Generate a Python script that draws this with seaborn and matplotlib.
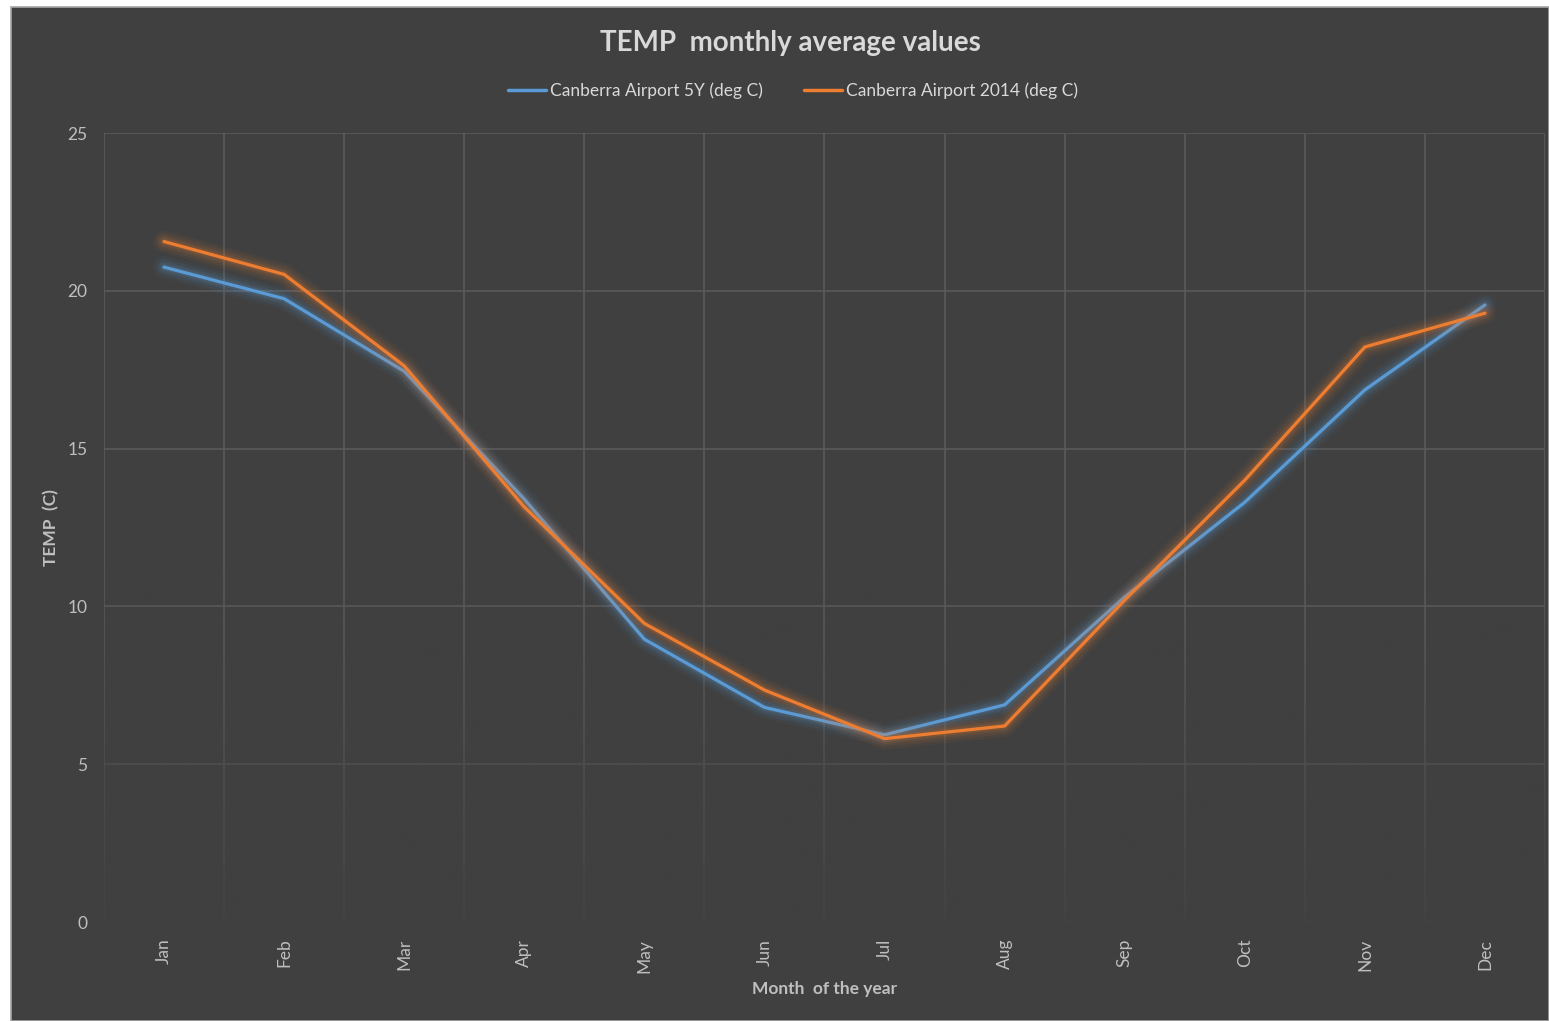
import numpy as np
import pandas as pd
import matplotlib
matplotlib.use("Agg")
import matplotlib.pyplot as plt
import matplotlib.patheffects as pe
from matplotlib.patches import Rectangle
import seaborn as sns

months = ["Jan", "Feb", "Mar", "Apr", "May", "Jun", "Jul", "Aug", "Sep", "Oct", "Nov", "Dec"]
series_5y_name = "Canberra Airport 5Y (deg C)"
series_2014_name = "Canberra Airport 2014 (deg C)"
temp_5y = [20.75, 19.75, 17.45, 13.4, 8.96, 6.8, 5.93, 6.88, 10.3, 13.3, 16.86, 19.55]
temp_2014 = [21.56, 20.52, 17.62, 13.15, 9.46, 7.35, 5.81, 6.21, 10.2, 14.0, 18.22, 19.29]
y_ticks = [0, 5, 10, 15, 20, 25]

df = pd.DataFrame({
    "Month": months * 2,
    "TEMP": temp_5y + temp_2014,
    "Series": [series_5y_name] * len(months) + [series_2014_name] * len(months),
})

BG = "#404040"
GRID = "#5a5a5a"
TXT = "#d9d9d9"
TICK = "#bfbfbf"
palette = {series_5y_name: "#5B9BD5", series_2014_name: "#ED7D31"}

sns.set_theme(style="dark")
plt.rcParams["font.family"] = ["Lato", "DejaVu Sans"]

fig = plt.figure(figsize=(15.49, 10.21), dpi=100, facecolor="white")
# dark chart area with thin grey frame
fig.patches.append(Rectangle((11 / 1549, 0), 1 - 11 / 1549, 1 - 7 / 1021,
                             transform=fig.transFigure, facecolor=BG,
                             edgecolor="#a6a6a6", linewidth=1.2, zorder=-10))

ax = fig.add_axes([104 / 1549, 1 - 922 / 1021, (1545 - 104) / 1549, (922 - 133) / 1021])
ax.set_facecolor(BG)

sns.lineplot(data=df, x="Month", y="TEMP", hue="Series", palette=palette,
             sort=False, linewidth=2.3, ax=ax, legend=False, zorder=4)

for line in ax.get_lines():
    c = line.get_color()
    line.set_path_effects([
        pe.Stroke(linewidth=16, foreground=c, alpha=0.05),
        pe.Stroke(linewidth=12, foreground=c, alpha=0.07),
        pe.Stroke(linewidth=8, foreground=c, alpha=0.10),
        pe.Stroke(linewidth=5, foreground=c, alpha=0.14),
        pe.Normal(),
    ])
    line.set_solid_capstyle("round")

ax.set_xlim(-0.5, len(months) - 0.5)
ax.set_ylim(0, 25)
ax.set_yticks(y_ticks)
ax.set_yticklabels([str(v) for v in y_ticks])
ax.set_xticks(range(len(months)))
ax.set_xticklabels(months, rotation=90)

# grid lines (vertical between categories, horizontal at ticks)
for xb in np.arange(-0.5, len(months) + 0.5, 1.0):
    ax.axvline(xb, color=GRID, linewidth=1.2, zorder=0.5)
for yv in y_ticks:
    ax.axhline(yv, color=GRID, linewidth=1.2, zorder=0.5)

# fade of the lower part of the plot area
grad = np.zeros((256, 2, 4))
bgc = matplotlib.colors.to_rgba(BG)
grad[..., :3] = bgc[:3]
alpha = np.clip((np.linspace(0, 1, 256) - 0.55) / 0.45, 0, 1) ** 1.2 * 0.88
grad[..., 3] = alpha[:, None]
ax.imshow(grad, extent=(-0.5, len(months) - 0.5, 0, 25), origin="upper",
          aspect="auto", zorder=1, interpolation="bicubic")
ax.set_xlim(-0.5, len(months) - 0.5)
ax.set_ylim(0, 25)

for s in ax.spines.values():
    s.set_visible(False)
ax.grid(False)
ax.tick_params(axis="both", length=0, colors=TICK, labelsize=12.5)
ax.tick_params(axis="x", pad=12)
ax.tick_params(axis="y", pad=12)

ax.set_xlabel("Month  of the year", color=TICK, fontsize=12.5, fontweight="bold", labelpad=6)
ax.set_ylabel("TEMP  (C)", color=TICK, fontsize=12.5, fontweight="bold", labelpad=6)

fig.text(790 / 1549, 1 - 43 / 1021, "TEMP  monthly average values", ha="center", va="center",
         color=TXT, fontsize=20, fontweight="bold")

handles = [plt.Line2D([], [], color=palette[n], linewidth=2.5) for n in [series_5y_name, series_2014_name]]
leg = fig.legend(handles, [series_5y_name, series_2014_name], loc="center",
                 bbox_to_anchor=(793 / 1549, 1 - 91 / 1021), ncol=2, frameon=False,
                 fontsize=12.5, handlelength=2.2, handletextpad=0.2, columnspacing=2.4)
for t in leg.get_texts():
    t.set_color(TXT)

fig.savefig("out.png", dpi=100, facecolor=fig.get_facecolor())
